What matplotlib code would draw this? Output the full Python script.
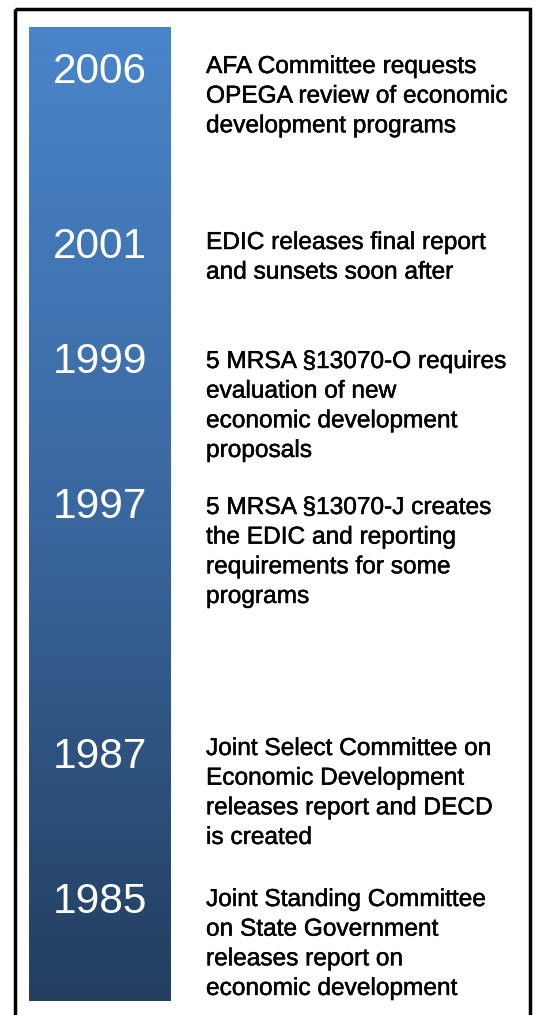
import matplotlib.pyplot as plt
import matplotlib.patheffects as pe
import numpy as np
from matplotlib.colors import LinearSegmentedColormap
from matplotlib.patches import Rectangle

# timeline data
years = ["2006", "2001", "1999", "1997", "1987", "1985"]
events = [
    "AFA Committee requests\nOPEGA review of economic\ndevelopment programs",
    "EDIC releases final report\nand sunsets soon after",
    "5 MRSA §13070-O requires\nevaluation of new\neconomic development\nproposals",
    "5 MRSA §13070-J creates\nthe EDIC and reporting\nrequirements for some\nprograms",
    "Joint Select Committee on\nEconomic Development\nreleases report and DECD\nis created",
    "Joint Standing Committee\non State Government\nreleases report on\neconomic development",
]

# layout (pixel rows)
year_top = [52, 227, 342, 487, 737, 882]
text_top = [56, 232, 351, 497, 738, 889]

W, H = 535, 1015
fig = plt.figure(figsize=(W / 100, H / 100), dpi=100)
ax = fig.add_axes([0, 0, 1, 1])
ax.set_xlim(0, W)
ax.set_ylim(H, 0)
ax.axis("off")

# outer frame
ax.add_patch(Rectangle((15, 9), 515, 1030, fill=False, edgecolor="black",
                       linewidth=2.5))

# gradient bar
cmap = LinearSegmentedColormap.from_list("bar", ["#4A85CA", "#3A679F", "#233E5F"])
grad = np.linspace(0, 1, 256).reshape(-1, 1)
ax.imshow(grad, cmap=cmap, aspect="auto", extent=(29, 171, 1001, 27),
          interpolation="bilinear", zorder=1)

for yr, y in zip(years, year_top):
    ax.text(100, y, yr, color="white", fontsize=30.5, ha="center", va="top",
            family="Liberation Sans", zorder=3)

bold = [pe.withStroke(linewidth=0.35, foreground="black")]
for txt, y in zip(events, text_top):
    ax.text(206, y, txt, color="black", fontsize=17.6, ha="left", va="top",
            family="Liberation Sans", linespacing=1.45, zorder=3,
            path_effects=bold)

fig.savefig("out.png", dpi=100)
